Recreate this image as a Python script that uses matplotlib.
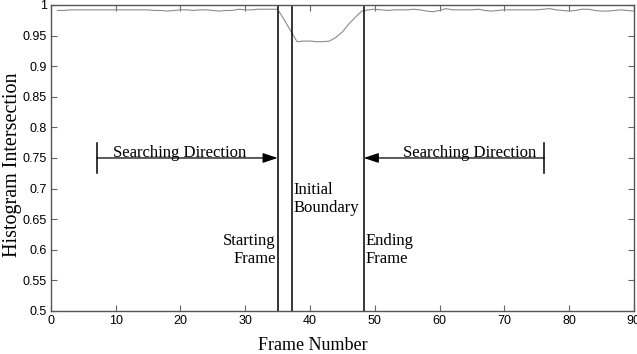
import matplotlib
matplotlib.use("Agg")
import matplotlib.pyplot as plt

# Histogram intersection between consecutive frames
frames = list(range(1, 91))
intersection = [
    0.991, 0.991, 0.992, 0.992, 0.992, 0.992, 0.992, 0.992, 0.992, 0.992,
    0.992, 0.992, 0.992, 0.992, 0.992, 0.991, 0.991, 0.990, 0.991, 0.992,
    0.992, 0.991, 0.992, 0.992, 0.991, 0.990, 0.991, 0.991, 0.993, 0.992,
    0.992, 0.993, 0.993, 0.993, 0.993, 0.976, 0.958, 0.940, 0.941, 0.941,
    0.940, 0.940, 0.941, 0.947, 0.956, 0.969, 0.980, 0.990, 0.992, 0.993,
    0.992, 0.991, 0.992, 0.992, 0.992, 0.993, 0.992, 0.990, 0.989, 0.991,
    0.994, 0.992, 0.992, 0.992, 0.992, 0.993, 0.991, 0.990, 0.991, 0.992,
    0.992, 0.992, 0.992, 0.992, 0.992, 0.993, 0.994, 0.992, 0.991, 0.990,
    0.991, 0.993, 0.993, 0.991, 0.990, 0.990, 0.991, 0.992, 0.991, 0.990,
]

starting_frame = 35
initial_boundary = 37.2
ending_frame = 48.3
search_left_start = 7.1
search_right_end = 76.2
arrow_level = 0.75

xticks = list(range(0, 91, 10))
yticks = [0.5, 0.55, 0.6, 0.65, 0.7, 0.75, 0.8, 0.85, 0.9, 0.95, 1.0]
ytick_labels = ["0.5", "0.55", "0.6", "0.65", "0.7", "0.75", "0.8", "0.85", "0.9", "0.95", "1"]

serif = ["Liberation Serif", "DejaVu Serif"]
sans = ["Liberation Sans", "DejaVu Sans"]

fig = plt.figure(figsize=(6.37, 3.54), dpi=100)
ax = fig.add_axes([0.080, 0.1215, 0.915, 0.8645])

ax.plot(frames, intersection, color="#8c8c8c", lw=0.8)

for xv, lw, col in [(starting_frame, 1.4, "#333333"),
                    (initial_boundary, 1.1, "black"),
                    (ending_frame, 1.1, "black")]:
    ax.axvline(xv, color=col, lw=lw)

# Search direction arrows
ax.annotate("", xy=(starting_frame, arrow_level), xytext=(search_left_start, arrow_level),
            arrowprops=dict(arrowstyle="-|>,head_length=0.9,head_width=0.3",
                            color="black", lw=0.9, shrinkA=0, shrinkB=0))
ax.annotate("", xy=(ending_frame, arrow_level), xytext=(search_right_end, arrow_level),
            arrowprops=dict(arrowstyle="-|>,head_length=0.9,head_width=0.3",
                            color="black", lw=0.9, shrinkA=0, shrinkB=0))
for xv in (search_left_start, search_right_end):
    ax.plot([xv, xv], [arrow_level - 0.024, arrow_level + 0.024], color="black", lw=1.1)

ax.text(19.9, arrow_level + 0.0015, "Searching Direction", family=serif, fontsize=12,
        ha="center", va="baseline")
ax.text(64.7, arrow_level + 0.0015, "Searching Direction", family=serif, fontsize=12,
        ha="center", va="baseline")

ax.text(initial_boundary + 0.2, 0.683, "Initial\nBoundary", family=serif, fontsize=12,
        ha="left", va="center", linespacing=1.15)
ax.text(starting_frame - 0.3, 0.60, "Starting\nFrame", family=serif, fontsize=12,
        ha="right", va="center", linespacing=1.15)
ax.text(ending_frame + 0.3, 0.60, "Ending\nFrame", family=serif, fontsize=12,
        ha="left", va="center", linespacing=1.15)

ax.set_xlim(0, 90)
ax.set_ylim(0.5, 1.0)
ax.set_xticks(xticks)
ax.set_yticks(yticks)
ax.set_yticklabels(ytick_labels)
ax.tick_params(direction="in", length=4, width=0.8, color="#666666",
               top=True, right=True, labelsize=9, pad=3)
for lab in ax.get_xticklabels() + ax.get_yticklabels():
    lab.set_family(sans)
for s in ax.spines.values():
    s.set_color("#555555")
    s.set_linewidth(1.0)

ax.set_xlabel("Frame Number", family=serif, fontsize=13)
ax.xaxis.set_label_coords(0.449, -0.085)
ax.set_ylabel("Histogram Intersection", family=serif, fontsize=14.5)
ax.yaxis.set_label_coords(-0.049, 0.477)

fig.savefig("out.png", dpi=100)
